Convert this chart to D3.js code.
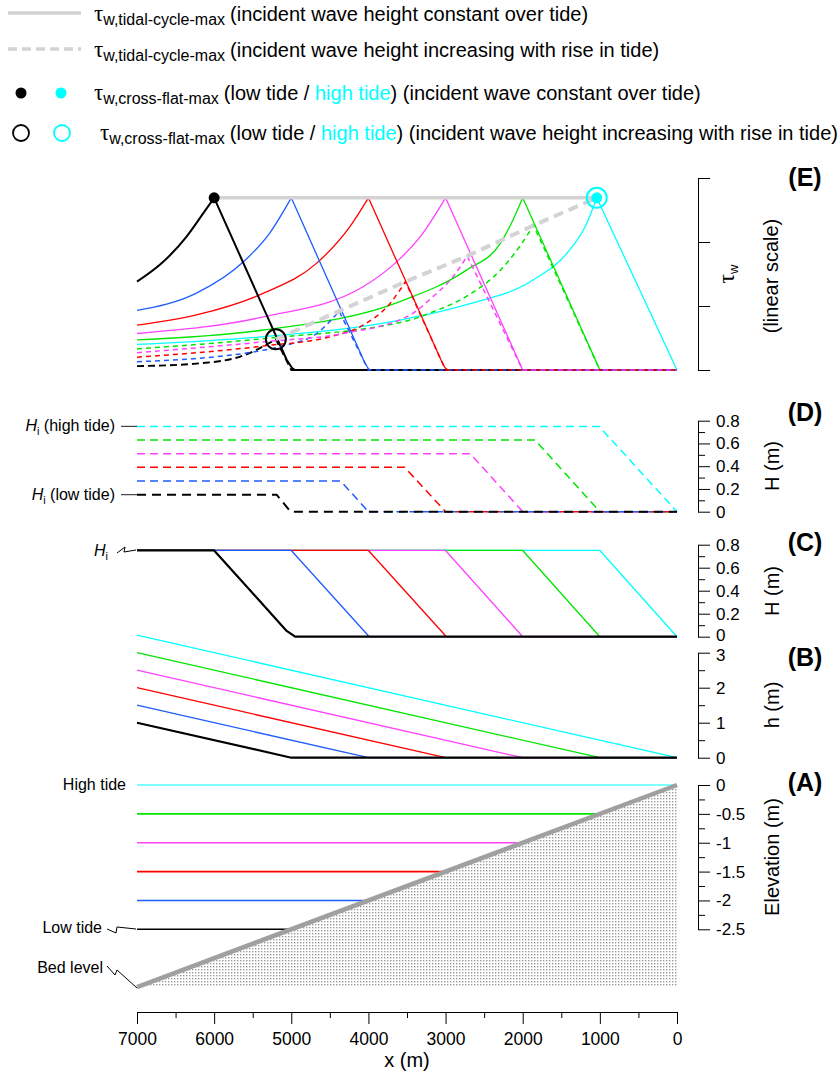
<!DOCTYPE html>
<html>
<head>
<meta charset="utf-8">
<script src="https://cdn.jsdelivr.net/npm/d3@7"></script>
<style>
body{margin:0;background:#fff;}
</style>
</head>
<body>
<svg id="chart" width="840" height="1076"></svg>
<script>

// ---- data ----
var xTicks = [7000,6000,5000,4000,3000,2000,1000,0];
var xMinor = [6500,5500,4500,3500,2500,1500,500];

// tides from low (black) to high (cyan)
var tideColors = ["#000000","#1f5cff","#ff0000","#ff40ff","#00e600","#00ffff"];
var waterLevel = [-2.5,-2,-1.5,-1,-0.5,0];
var shoreX = [5000,4000,3000,2000,1000,0];
var bedLine = [[7000,-3.5],[0,0]];

// (B) water depth h (m)
var depthB = [
	[[7000,1],[5000,0],[0,0]],
	[[7000,1.5],[4000,0],[0,0]],
	[[7000,2],[3000,0],[0,0]],
	[[7000,2.5],[2000,0],[0,0]],
	[[7000,3],[1000,0],[0,0]],
	[[7000,3.5],[0,0]]
];

// (C) wave height, incident height constant over tide
var waveC = [
	[[7000,0.75],[6000,0.75],[5060,0.05],[4950,0],[0,0]],
	[[7000,0.75],[5000,0.75],[4030,0.03],[3990,0],[0,0]],
	[[7000,0.75],[4000,0.75],[3030,0.03],[2990,0],[0,0]],
	[[7000,0.75],[3000,0.75],[2000,0],[0,0]],
	[[7000,0.75],[2000,0.75],[1000,0],[0,0]],
	[[7000,0.75],[1000,0.75],[0,0]]
];

// (D) wave height, incident height rising with the tide
var waveD = [
	[[7000,0.15],[5190,0.15],[5010,0],[0,0]],
	[[7000,0.27],[4360,0.27],[4000,0],[0,0]],
	[[7000,0.39],[3530,0.39],[3000,0],[0,0]],
	[[7000,0.51],[2680,0.51],[2000,0],[0,0]],
	[[7000,0.63],[1840,0.63],[1000,0],[0,0]],
	[[7000,0.75],[1010,0.75],[0,0]]
];

// (E) bed shear stress (relative units), incident height constant
var tauSolidRise = [
	[[7000,1.38],[6660,1.69],[6360,2.08],[6140,2.45],[6000,2.69]],
	[[7000,0.93],[6230,1.20],[5620,1.69],[5280,2.14],[5000,2.69]],
	[[7000,0.70],[6230,0.86],[5360,1.20],[4670,1.67],[4240,2.24],[4000,2.69]],
	[[7000,0.57],[5360,0.83],[4070,1.30],[3590,1.74],[3330,2.08],[3000,2.69]],
	[[7000,0.47],[5360,0.625],[3590,1.07],[2730,1.56],[2290,1.98],[2120,2.36],[2000,2.69]],
	[[7000,0.40],[5360,0.52],[3590,0.78],[2730,1.02],[1860,1.41],[1430,1.82],[1170,2.29],[1040,2.69]]
];
var tauSolidFall = [
	[[6000,2.69],[5060,0.16],[4990,0.03],[4950,0],[0,0]],
	[[5000,2.69],[4050,0.12],[4000,0.02],[3970,0],[0,0]],
	[[4000,2.69],[3060,0.16],[3010,0.04],[2970,0],[0,0]],
	[[3000,2.69],[2000,0],[0,0]],
	[[2000,2.69],[1000,0],[0,0]],
	[[1040,2.69],[0,0]]
];
// incident height rising with the tide (cyan coincides with the solid one)
var tauDashRise = [
	[[7000,0.06],[6230,0.10],[5660,0.21],[5200,0.48]],
	[[7000,0.13],[6230,0.18],[5360,0.31],[5060,0.39],[4670,0.57],[4380,0.92]],
	[[7000,0.20],[5360,0.375],[4500,0.52],[4070,0.70],[3720,1.04],[3520,1.38]],
	[[7000,0.27],[5360,0.44],[4330,0.57],[3460,0.86],[3160,1.15],[2900,1.46],[2720,1.78]],
	[[7000,0.33],[5360,0.49],[3460,0.78],[3160,0.91],[2730,1.15],[2290,1.56],[2040,1.93],[1860,2.26]]
];
var tauDashFall = [
	[[5200,0.48],[5000,0],[0,0]],
	[[4380,0.92],[4000,0],[0,0]],
	[[3520,1.38],[3000,0],[0,0]],
	[[2720,1.78],[2000,0],[0,0]],
	[[1860,2.26],[1000,0],[0,0]]
];

var legendSub = ["w,tidal-cycle-max","w,tidal-cycle-max","w,cross-flat-max","w,cross-flat-max"];
var legendNote = ["(incident wave height constant over tide)",
	"(incident wave height increasing with rise in tide)",
	"(incident wave constant over tide)",
	"(incident wave height increasing with rise in tide)"];
var panelNames = ["(E)","(D)","(C)","(B)","(A)"];

// ---- drawing ----
var FONT = "'Liberation Sans', Arial, Helvetica, sans-serif";
var SERIF = "'Liberation Serif', 'DejaVu Serif', serif";
var svg = d3.select("#chart");
var axisX = 698;

var x = d3.scaleLinear().domain([7000,0]).range([137,677]);
var yE = d3.scaleLinear().domain([0,3]).range([370,178]);
var yD = d3.scaleLinear().domain([0,0.8]).range([511.7,420.7]);
var yC = d3.scaleLinear().domain([0,0.8]).range([636.7,544.7]);
var yB = d3.scaleLinear().domain([0,3]).range([757.7,652.7]);
var yA = d3.scaleLinear().domain([-2.5,0]).range([929.3,785]);

var defs = svg.append("defs");
var pat = defs.append("pattern").attr("id","dots").attr("patternUnits","userSpaceOnUse")
	.attr("width",3).attr("height",3);
pat.append("rect").attr("width",1.4).attr("height",1.4).attr("fill","#9a9a9a");

function lineFor(scale, curve){
	var l = d3.line().x(function(d){return x(d[0]);}).y(function(d){return scale(d[1]);});
	if(curve) l.curve(curve);
	return l;
}

function rightAxis(scale, major, minor, withLabels){
	if(minor){
		svg.append("g").attr("transform","translate("+axisX+",0)")
			.call(d3.axisRight(scale).tickValues(minor).tickSize(7).tickSizeOuter(0).tickFormat(""));
	}
	var g = svg.append("g").attr("transform","translate("+axisX+",0)")
		.call(d3.axisRight(scale).tickValues(major).tickSize(12).tickPadding(6).tickSizeOuter(0)
			.tickFormat(withLabels ? function(d){return String(d);} : ""));
	g.selectAll("text").attr("font-size",17).attr("font-family",FONT).attr("fill","#000");
	return g;
}

function rotTitle(cx, cy, txt){
	svg.append("text").attr("transform","translate("+cx+","+cy+") rotate(-90)")
		.attr("text-anchor","middle").attr("dy","0.35em")
		.attr("font-family",FONT).attr("font-size",20).text(txt);
}

function hiLabel(xEnd, yBase, rest){
	var t = svg.append("text").attr("x",xEnd).attr("y",yBase).attr("text-anchor","end")
		.attr("font-family",FONT).attr("font-size",16);
	t.append("tspan").attr("font-style","italic").text("H");
	t.append("tspan").attr("font-size",11).attr("dy",4).text("i");
	if(rest) t.append("tspan").attr("dy",-4).text(rest);
}

// ---------- legend ----------
var legY = [14,50,93,133];
var legG = svg.append("g");
legG.append("line").attr("x1",8).attr("x2",81).attr("y1",legY[0]-1).attr("y2",legY[0]-1)
	.attr("stroke","#d3d3d3").attr("stroke-width",3.5);
legG.append("line").attr("x1",8).attr("x2",81).attr("y1",legY[1]-1).attr("y2",legY[1]-1)
	.attr("stroke","#d3d3d3").attr("stroke-width",3.5).attr("stroke-dasharray","9,5");
legG.append("circle").attr("cx",21).attr("cy",legY[2]).attr("r",5.5).attr("fill","#000");
legG.append("circle").attr("cx",61).attr("cy",legY[2]).attr("r",5.5).attr("fill","#00ffff");
legG.append("circle").attr("cx",21).attr("cy",legY[3]).attr("r",8).attr("fill","none")
	.attr("stroke","#000").attr("stroke-width",1.8);
legG.append("circle").attr("cx",62).attr("cy",legY[3]).attr("r",8).attr("fill","none")
	.attr("stroke","#00ffff").attr("stroke-width",1.8);

legendSub.forEach(function(sub,i){
	var t = legG.append("text").attr("x", i==3 ? 100 : 94).attr("y",legY[i]+6.5)
		.attr("font-family",FONT).attr("font-size",20);
	t.append("tspan").attr("font-family",SERIF).attr("font-size",23).text("\u03C4");
	t.append("tspan").attr("font-size",16).attr("dy",4).text(sub);
	if(i>=2){
		t.append("tspan").attr("dy",-4).attr("dx",5).text("(low tide / ");
		t.append("tspan").attr("fill","#00ffff").text("high tide");
		t.append("tspan").text(") " + legendNote[i]);
	}else{
		t.append("tspan").attr("dy",-4).attr("dx",5).text(legendNote[i]);
	}
});

// ---------- (E) ----------
var riseLine = lineFor(yE, d3.curveMonotoneX);
var fallLine = lineFor(yE);
function cuspPath(rise, fall){
	return riseLine(rise) + fallLine(fall).replace(/^M/,"L");
}
var gE = svg.append("g");
[5,4,3,2,1,0].forEach(function(i){
	gE.append("path").attr("d",cuspPath(tauSolidRise[i],tauSolidFall[i]))
		.attr("fill","none").attr("stroke",tideColors[i])
		.attr("stroke-width", i==0 ? 2 : 1.3).attr("stroke-linejoin","round");
});
[4,0,1,2,3].forEach(function(i){
	gE.append("path").attr("d",cuspPath(tauDashRise[i],tauDashFall[i]))
		.attr("fill","none").attr("stroke",tideColors[i])
		.attr("stroke-width", i==0 ? 1.9 : 1.5)
		.attr("stroke-dasharray", i==0 ? "7,4" : "5,4");
});
var solidPeaks = tauSolidRise.map(function(s){return s[s.length-1];});
var dashPeaks = tauDashRise.map(function(s){return s[s.length-1];}).concat([solidPeaks[5]]);
gE.append("path").attr("d",fallLine([solidPeaks[0],solidPeaks[5]]))
	.attr("fill","none").attr("stroke","#d3d3d3").attr("stroke-width",3.5);
gE.append("path").attr("d",fallLine(dashPeaks))
	.attr("fill","none").attr("stroke","#d3d3d3").attr("stroke-width",4)
	.attr("stroke-dasharray","10,6");
gE.append("circle").attr("cx",x(solidPeaks[0][0])).attr("cy",yE(solidPeaks[0][1])).attr("r",5.5).attr("fill","#000");
gE.append("circle").attr("cx",x(solidPeaks[5][0])).attr("cy",yE(solidPeaks[5][1])).attr("r",5.5).attr("fill","#00ffff");
gE.append("circle").attr("cx",x(dashPeaks[0][0])).attr("cy",yE(dashPeaks[0][1])).attr("r",10)
	.attr("fill","none").attr("stroke","#000").attr("stroke-width",2);
gE.append("circle").attr("cx",x(solidPeaks[5][0])).attr("cy",yE(solidPeaks[5][1])).attr("r",10)
	.attr("fill","none").attr("stroke","#00ffff").attr("stroke-width",2);
rightAxis(yE,[0,1,2,3],null,false);
var tw = svg.append("text").attr("transform","translate(729,274) rotate(-90)")
	.attr("text-anchor","middle").attr("dy","0.3em").attr("font-family",FONT);
tw.append("tspan").attr("font-family",SERIF).attr("font-size",24).text("\u03C4");
tw.append("tspan").attr("font-size",13).attr("dy",4).text("w");
rotTitle(771,276,"(linear scale)");

// ---------- (D) ----------
var lineD = lineFor(yD);
[5,4,3,2,1,0].forEach(function(i){
	svg.append("path").attr("d",lineD(waveD[i])).attr("fill","none").attr("stroke",tideColors[i])
		.attr("stroke-width", i==0 ? 2 : 1.5).attr("stroke-dasharray", i==0 ? "9,6" : "8,5");
});
rightAxis(yD,[0,0.2,0.4,0.6,0.8],[0.1,0.3,0.5,0.7],true);
rotTitle(772,466,"H (m)");
hiLabel(115,431," (high tide)");
hiLabel(115,500," (low tide)");
svg.append("line").attr("x1",121).attr("x2",137).attr("y1",yD(0.75)).attr("y2",yD(0.75)).attr("stroke","#444").attr("stroke-width",1.2);
svg.append("line").attr("x1",121).attr("x2",137).attr("y1",yD(0.15)).attr("y2",yD(0.15)).attr("stroke","#444").attr("stroke-width",1.2);

// ---------- (C) ----------
var lineC = lineFor(yC);
[5,4,3,2,1,0].forEach(function(i){
	svg.append("path").attr("d",lineC(waveC[i])).attr("fill","none").attr("stroke",tideColors[i])
		.attr("stroke-width", i==0 ? 2.2 : 1.3).attr("stroke-linejoin","round");
});
var axC = rightAxis(yC,[0,0.2,0.4,0.6,0.8],[0.1,0.3,0.5,0.7],true);
// C's "0" and B's "3" sit close together: nudge them apart a little
axC.selectAll(".tick text").filter(function(d){return d===0;}).attr("y",-2);
rotTitle(772,591,"H (m)");
hiLabel(108,556,null);
svg.append("path").attr("d","M117,553 L125,547 L124,552 L136,550").attr("fill","none").attr("stroke","#000").attr("stroke-width",1);

// ---------- (B) ----------
var lineB = lineFor(yB);
[5,4,3,2,1,0].forEach(function(i){
	svg.append("path").attr("d",lineB(depthB[i])).attr("fill","none").attr("stroke",tideColors[i])
		.attr("stroke-width", i==0 ? 2.2 : 1.3);
});
var axB = rightAxis(yB,[0,1,2,3],[0.5,1.5,2.5],true);
axB.selectAll(".tick text").filter(function(d){return d===3;}).attr("y",2);
rotTitle(772,705,"h (m)");

// ---------- (A) ----------
var lineA = lineFor(yA);
svg.append("path")
	.attr("d",lineA([bedLine[0],bedLine[1],[0,bedLine[0][1]]]) + "Z")
	.attr("fill","url(#dots)");
waterLevel.forEach(function(lev,i){
	svg.append("path").attr("d",lineA([[7000,lev],[shoreX[i],lev]])).attr("fill","none")
		.attr("stroke",tideColors[i]).attr("stroke-width", i==5 ? 1.2 : 1.6);
});
svg.append("path").attr("d",lineA(bedLine)).attr("fill","none").attr("stroke","#a0a0a0").attr("stroke-width",4.5);
rightAxis(yA,[0,-0.5,-1,-1.5,-2,-2.5],[-0.25,-0.75,-1.25,-1.75,-2.25],true);
rotTitle(772,857,"Elevation (m)");

var notes = [["High tide",126,790],["Low tide",102,933],["Bed level",103,973]];
notes.forEach(function(n){
	svg.append("text").attr("x",n[1]).attr("y",n[2]).attr("text-anchor","end")
		.attr("font-family",FONT).attr("font-size",16).text(n[0]);
});
svg.append("path").attr("d","M107,929 L116,933 L117,927 L136,929").attr("fill","none").attr("stroke","#000").attr("stroke-width",1);
svg.append("path").attr("d","M107,966 L115,975 L117,970 L137,988").attr("fill","none").attr("stroke","#000").attr("stroke-width",1);

// ---------- panel letters ----------
var panelY = [186,421,551,666,791];
panelNames.forEach(function(p,i){
	svg.append("text").attr("x",805).attr("y",panelY[i]).attr("text-anchor","middle")
		.attr("font-family",FONT).attr("font-weight","bold").attr("font-size",25).text(p);
});

// ---------- x axis ----------
svg.append("g").attr("transform","translate(0,1012)")
	.call(d3.axisBottom(x).tickValues(xMinor).tickSize(6).tickSizeOuter(0).tickFormat(""));
var gx = svg.append("g").attr("transform","translate(0,1012)")
	.call(d3.axisBottom(x).tickValues(xTicks).tickSize(12).tickPadding(9).tickSizeOuter(0).tickFormat(d3.format("d")));
gx.selectAll("text").attr("font-size",17.5).attr("font-family",FONT).attr("fill","#000");
svg.append("text").attr("x",407).attr("y",1067).attr("text-anchor","middle")
	.attr("font-family",FONT).attr("font-size",20).text("x (m)");

</script>
</body>
</html>
